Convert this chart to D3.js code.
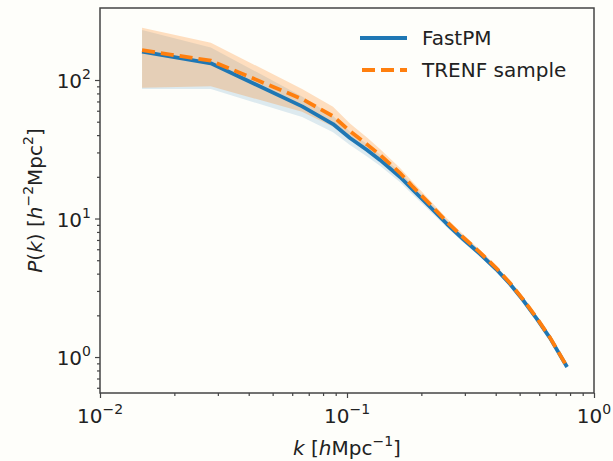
<!DOCTYPE html>
<html>
<head>
<meta charset="utf-8">
<script src="https://cdn.jsdelivr.net/npm/d3@7"></script>
<style>
    body { margin: 0; background: #fefefa; }
    svg { font-family: "DejaVu Sans", sans-serif; }
</style>
</head>
<body>
<svg width="613" height="461"></svg>
<script>
// wavenumber bins [h/Mpc]
var k_values = [0.0148, 0.0281, 0.0658, 0.0878, 0.1028, 0.1205, 0.136, 0.164, 0.185, 0.217,
    0.254, 0.295, 0.346, 0.401, 0.457, 0.516, 0.588, 0.664, 0.778];

var fastpm_mean = [160, 132, 64.5, 48.1, 38.1, 31.2, 26.5, 19.94, 16.06, 12.11,
    9.13, 7.11, 5.54, 4.32, 3.37, 2.58, 1.88, 1.37, 0.847];
var fastpm_lo = [86, 86, 54, 42, 34, 28, 24, 18.3, 14.8, 11.3,
    8.6, 6.75, 5.3, 4.16, 3.26, 2.51, 1.84, 1.345, 0.83];
var fastpm_hi = [230, 172, 76, 55, 42.5, 34.5, 29, 21.7, 17.4, 13,
    9.7, 7.5, 5.8, 4.5, 3.48, 2.65, 1.92, 1.395, 0.865];

var trenf_mean = [164, 138, 72.9, 54.8, 42.7, 34.3, 28.8, 21.3, 16.9, 12.65,
    9.45, 7.32, 5.68, 4.41, 3.42, 2.61, 1.90, 1.38, 0.85];
var trenf_lo = [88, 90, 59, 46, 37.5, 30.8, 26.2, 19.7, 15.8, 11.9,
    8.95, 6.98, 5.45, 4.26, 3.32, 2.55, 1.86, 1.355, 0.835];
var trenf_hi = [238, 186, 86, 64, 48.5, 38.5, 31.8, 23.2, 18.3, 13.5,
    10.0, 7.7, 5.93, 4.58, 3.53, 2.68, 1.94, 1.405, 0.868];

var x_major = [0.01, 0.1, 1];
var x_major_exp = ["\u22122", "\u22121", "0"];
var y_major = [1, 10, 100];
var y_major_exp = ["0", "1", "2"];
var legend_names = ["FastPM", "TRENF sample"];

var blue = "#1f77b4", orange = "#ff7f0e";

var svg = d3.select("svg");
var plot = { left: 100, right: 594, top: 8, bottom: 393 };

var x_scale = d3.scaleLog().domain([0.01, 1]).range([plot.left, plot.right]);
var y_scale = d3.scaleLog().domain([0.55, 331]).range([plot.bottom, plot.top]);

function minor_ticks(lo, hi) {
    var out = [];
    for (var e = lo; e < hi; e++) {
        for (var m = 2; m <= 9; m++) {
            out.push(m * Math.pow(10, e));
        }
    }
    return out;
}

function rows(lo, mid, hi) {
    return k_values.map(function (k, i) {
        return { k: k, lo: lo[i], mid: mid[i], hi: hi[i] };
    });
}

var fastpm = rows(fastpm_lo, fastpm_mean, fastpm_hi);
var trenf = rows(trenf_lo, trenf_mean, trenf_hi);

var area = d3.area()
    .x(function (d) { return x_scale(d.k); })
    .y0(function (d) { return y_scale(d.lo); })
    .y1(function (d) { return y_scale(d.hi); });

var line = d3.line()
    .x(function (d) { return x_scale(d.k); })
    .y(function (d) { return y_scale(d.mid); });

svg.append("path").datum(fastpm)
    .attr("fill", blue).attr("fill-opacity", 0.15)
    .attr("d", area);
svg.append("path").datum(trenf)
    .attr("fill", orange).attr("fill-opacity", 0.25)
    .attr("d", area);

svg.append("path").datum(fastpm)
    .attr("fill", "none").attr("stroke", blue)
    .attr("stroke-width", 3.8)
    .attr("stroke-linejoin", "round")
    .attr("d", line);
svg.append("path").datum(trenf)
    .attr("fill", "none").attr("stroke", orange)
    .attr("stroke-width", 3.8)
    .attr("stroke-dasharray", "13,6")
    .attr("d", line);

// axes
var axis_color = "#444";

var gx_minor = svg.append("g")
    .attr("transform", "translate(0," + plot.bottom + ")")
    .call(d3.axisBottom(x_scale).tickValues(minor_ticks(-2, 0)).tickSize(3).tickFormat(""));
var gx = svg.append("g")
    .attr("transform", "translate(0," + plot.bottom + ")")
    .call(d3.axisBottom(x_scale).tickValues(x_major).tickSize(5).tickFormat(""));
var gy_minor = svg.append("g")
    .attr("transform", "translate(" + plot.left + ",0)")
    .call(d3.axisLeft(y_scale).tickValues(minor_ticks(-1, 2).filter(function (v) {
        return v >= 0.55 && v <= 331;
    })).tickSize(3).tickFormat(""));
var gy = svg.append("g")
    .attr("transform", "translate(" + plot.left + ",0)")
    .call(d3.axisLeft(y_scale).tickValues(y_major).tickSize(5).tickFormat(""));

[gx_minor, gx, gy_minor, gy].forEach(function (g) {
    g.select(".domain").remove();
    g.selectAll("line").attr("stroke", axis_color).attr("stroke-width", 1.2);
});

svg.append("rect")
    .attr("x", plot.left).attr("y", plot.top)
    .attr("width", plot.right - plot.left).attr("height", plot.bottom - plot.top)
    .attr("fill", "none").attr("stroke", axis_color).attr("stroke-width", 1.5);

// tick labels with superscripts
x_major.forEach(function (v, i) {
    var t = svg.append("text")
        .attr("x", x_scale(v))
        .attr("y", 423)
        .attr("text-anchor", "middle")
        .attr("font-size", 20)
        .attr("fill", "#222");
    t.append("tspan").text("10");
    t.append("tspan").attr("dy", -9).attr("font-size", 14).text(x_major_exp[i]);
});

y_major.forEach(function (v, i) {
    var t = svg.append("text")
        .attr("x", 91)
        .attr("y", y_scale(v) + 8)
        .attr("text-anchor", "end")
        .attr("font-size", 20)
        .attr("fill", "#222");
    t.append("tspan").text("10");
    t.append("tspan").attr("dy", -9).attr("font-size", 14).text(y_major_exp[i]);
});

// axis labels
var xl = svg.append("text")
    .attr("x", (plot.left + plot.right) / 2)
    .attr("y", 455)
    .attr("text-anchor", "middle")
    .attr("font-size", 20)
    .attr("fill", "#222");
xl.append("tspan").attr("font-style", "italic").text("k");
xl.append("tspan").text(" [");
xl.append("tspan").attr("font-style", "italic").text("h");
xl.append("tspan").text("Mpc");
xl.append("tspan").attr("dy", -9).attr("font-size", 14).text("\u22121");
xl.append("tspan").attr("dy", 9).text("]");

var yl = svg.append("text")
    .attr("transform", "translate(42," + (plot.top + plot.bottom) / 2 + ") rotate(-90)")
    .attr("text-anchor", "middle")
    .attr("font-size", 20)
    .attr("fill", "#222");
yl.append("tspan").attr("font-style", "italic").text("P");
yl.append("tspan").text("(");
yl.append("tspan").attr("font-style", "italic").text("k");
yl.append("tspan").text(") [");
yl.append("tspan").attr("font-style", "italic").text("h");
yl.append("tspan").attr("dy", -9).attr("font-size", 14).text("\u22122");
yl.append("tspan").attr("dy", 9).text("Mpc");
yl.append("tspan").attr("dy", -9).attr("font-size", 14).text("2");
yl.append("tspan").attr("dy", 9).text("]");

// legend
var legend = svg.selectAll(".legend")
    .data(legend_names)
    .enter().append("g")
    .attr("class", "legend")
    .attr("transform", function (d, i) { return "translate(360," + (38 + i * 32) + ")"; });

legend.append("line")
    .attr("x1", 0).attr("x2", 47)
    .attr("stroke", function (d, i) { return i ? orange : blue; })
    .attr("stroke-width", 3.8)
    .attr("stroke-dasharray", function (d, i) { return i ? "13,6" : null; })
    .attr("stroke-dashoffset", function (d, i) { return i ? -2 : null; });

legend.append("text")
    .attr("x", 62).attr("y", 7)
    .attr("font-size", 20)
    .attr("fill", "#222")
    .text(function (d) { return d; });
</script>
</body>
</html>
